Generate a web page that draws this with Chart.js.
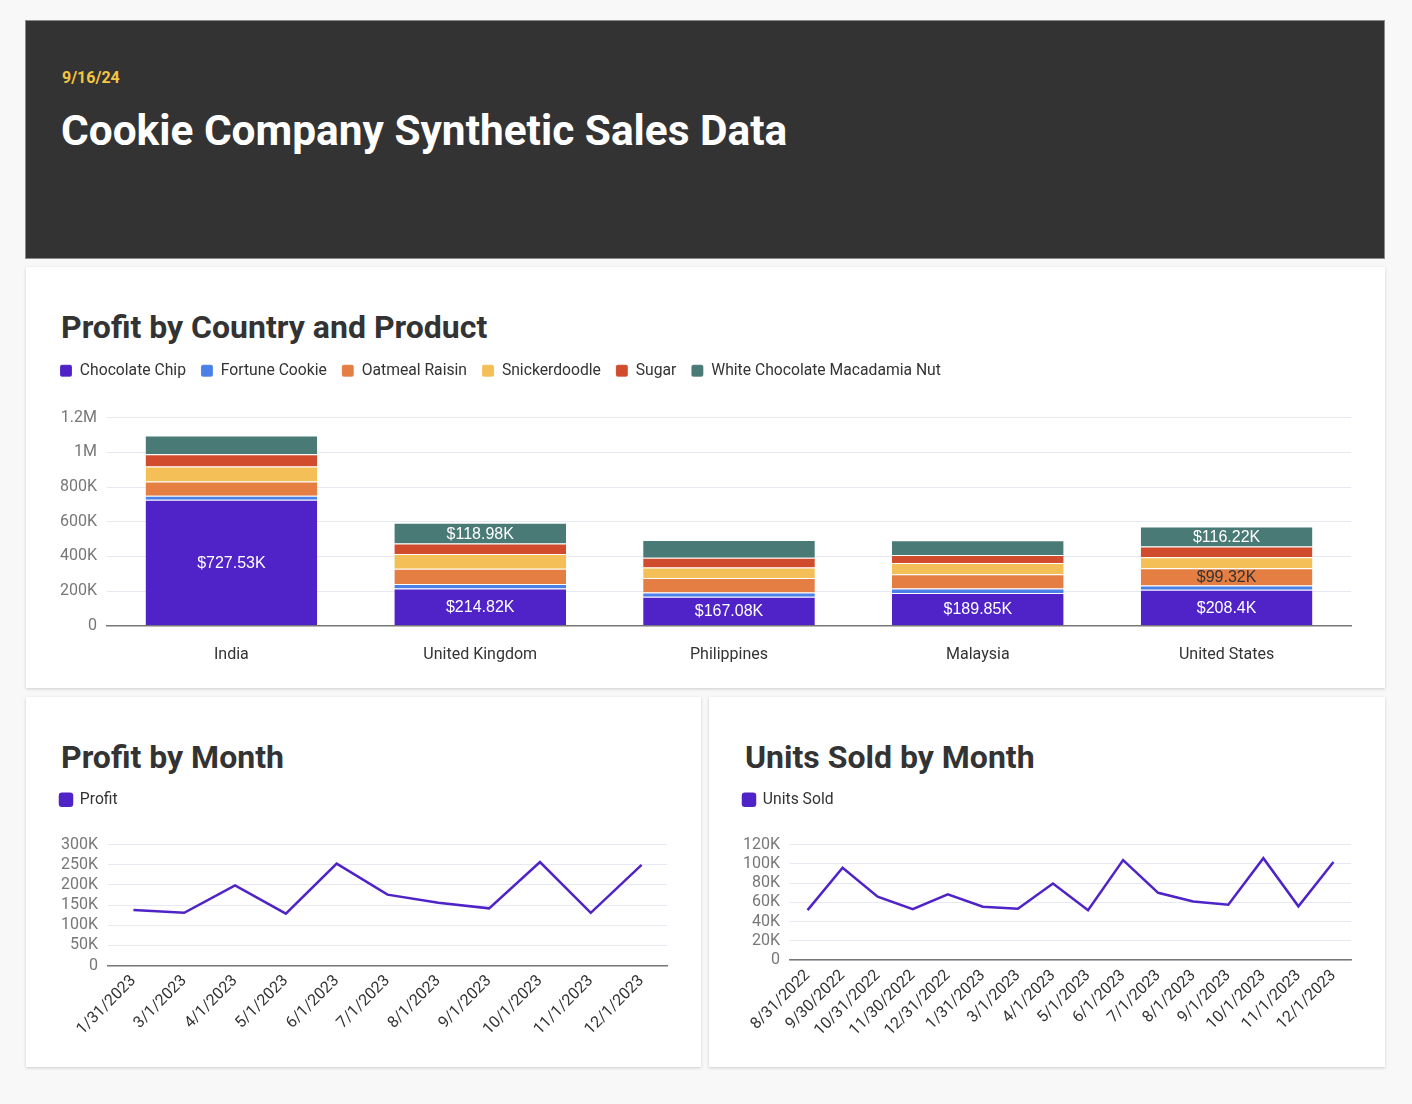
<!DOCTYPE html>
<html>
<head>
<meta charset="utf-8">
<script src="https://cdn.jsdelivr.net/npm/chart.js@4.4.1/dist/chart.umd.min.js"></script>
<style>
body { margin: 0; background: #f8f8f8; font-family: Roboto, sans-serif; width: 1412px; height: 1104px; position: relative; overflow: hidden; }
.box { position: absolute; background: #fff; box-shadow: 0 1px 3px rgba(0,0,0,0.18); }
.header { position: absolute; left: 25px; top: 20px; width: 1360px; height: 239px; background: #333; border: 1px solid #8a8a8a; box-sizing: border-box; }
.date { position: absolute; left: 62px; top: 70px; font: bold 16px/16px Roboto; color: #f4c542; }
.main-title { position: absolute; left: 61px; top: 110px; font: bold 42.4px/42px Roboto; color: #fff; }
.card-title { position: absolute; font: bold 32px/32px Roboto; color: #333; }
canvas { position: absolute; }
</style>
</head>
<body>
<div class="header"></div>
<div class="date">9/16/24</div>
<div class="main-title">Cookie Company Synthetic Sales Data</div>

<div class="box" style="left:26px;top:267px;width:1359px;height:421px"></div>
<div class="box" style="left:26px;top:697px;width:675px;height:370px"></div>
<div class="box" style="left:709px;top:697px;width:676px;height:370px"></div>

<div class="card-title" style="left:61px;top:311px">Profit by Country and Product</div>
<div class="card-title" style="left:61px;top:741px">Profit by Month</div>
<div class="card-title" style="left:745px;top:741px">Units Sold by Month</div>

<canvas id="bars" style="left:45px;top:348px" width="1325" height="337"></canvas>
<canvas id="profit" style="left:45px;top:777px" width="640" height="268"></canvas>
<canvas id="units" style="left:728px;top:777px" width="640" height="269"></canvas>

<script>
// profit by country and product
const countries = ["India", "United Kingdom", "Philippines", "Malaysia", "United States"];
const products = ["Chocolate Chip", "Fortune Cookie", "Oatmeal Raisin", "Snickerdoodle", "Sugar", "White Chocolate Macadamia Nut"];
const chocolateChip = [727530, 214820, 167080, 189850, 208400];
const fortuneCookie = [22000, 26000, 25000, 25000, 24000];
const oatmealRaisin = [82000, 88000, 83000, 83000, 99320];
const snickerdoodle = [87000, 85000, 61000, 65000, 64000];
const sugar = [71000, 61000, 56000, 45000, 61000];
const whiteChocMacadamia = [108000, 118980, 102000, 86000, 116220];
const productColors = ["#4f23c7", "#4a80e8", "#e57e43", "#f4bf57", "#d04c2c", "#4a7a75"];
// which segments carry a value label (country indexes, per product)
const labelledSegments = [[0, 1, 2, 3, 4], [], [4], [], [], [1, 4]];
const profitTicks = [0, 200000, 400000, 600000, 800000, 1000000, 1200000];

// profit by month
const profitMonths = ["1/31/2023", "3/1/2023", "4/1/2023", "5/1/2023", "6/1/2023", "7/1/2023", "8/1/2023", "9/1/2023", "10/1/2023", "11/1/2023", "12/1/2023"];
const monthlyProfit = [138000, 131000, 199000, 129000, 253000, 176000, 156000, 142000, 257000, 131000, 250000];

// units sold by month
const unitMonths = ["8/31/2022", "9/30/2022", "10/31/2022", "11/30/2022", "12/31/2022", "1/31/2023", "3/1/2023", "4/1/2023", "5/1/2023", "6/1/2023", "7/1/2023", "8/1/2023", "9/1/2023", "10/1/2023", "11/1/2023", "12/1/2023"];
const unitsSold = [52000, 96000, 66000, 53000, 68500, 55600, 53500, 79600, 52000, 104000, 70000, 61000, 57700, 106000, 56000, 102000];

const seriesValues = [chocolateChip, fortuneCookie, oatmealRaisin, snickerdoodle, sugar, whiteChocMacadamia];

function shortNum(v) {
    if (v >= 1000000) return (v / 1000000) + "M";
    if (v >= 1000) return (v / 1000) + "K";
    return String(v);
}

const gridColor = "#e6e8f4";
const axisColor = "#777";

const legendOpts = {
    display: true,
    position: "top",
    align: "start",
    labels: {
        boxWidth: 12,
        boxHeight: 12,
        useBorderRadius: true,
        borderRadius: 2,
        padding: 15,
        color: "#333",
        font: { family: "Roboto", size: 15.7 },
    },
};

// extra room under the legend
const legendGap = {
    id: "legendGap",
    beforeLayout(chart, args, opts) {
        const lg = chart.legend;
        if (lg && !lg._gapPatched) {
            const fit = lg.fit;
            lg.fit = function () {
                fit.call(this);
                this.height += opts.gap || 0;
            };
            lg._gapPatched = true;
        }
    },
};

// draws "$xxx.xxK" labels inside the chosen bar segments
const segmentLabels = {
    id: "segmentLabels",
    afterDatasetsDraw(chart) {
        const ctx = chart.ctx;
        ctx.save();
        ctx.font = "16px 'Liberation Sans', Arial, sans-serif";
        ctx.textAlign = "center";
        ctx.textBaseline = "middle";
        chart.data.datasets.forEach((ds, i) => {
            const meta = chart.getDatasetMeta(i);
            labelledSegments[i].forEach((c) => {
                const bar = meta.data[c];
                const v = ds.data[c];
                ctx.fillStyle = i === 2 ? "#333" : "#fff";
                ctx.fillText("$" + Math.round(v / 10) / 100 + "K", bar.x, (bar.y + bar.base) / 2 + 1);
            });
        });
        ctx.restore();
    },
};

new Chart(document.getElementById("bars"), {
    type: "bar",
    data: {
        labels: countries,
        datasets: products.map((p, i) => ({
            label: p,
            data: seriesValues[i],
            backgroundColor: productColors[i],
            borderColor: "rgba(255,255,255,0.6)",
            borderWidth: { top: 1 },
            categoryPercentage: 1,
            barPercentage: 0.69,
        })),
    },
    options: {
        responsive: false,
        animation: false,
        layout: { padding: { left: 0, right: 19, top: 0, bottom: 0 } },
        scales: {
            x: {
                stacked: true,
                grid: { display: false, drawTicks: false },
                border: { color: axisColor, width: 1.5 },
                ticks: { color: "#333", padding: 20, font: { family: "Roboto", size: 16 } },
            },
            y: {
                stacked: true,
                min: 0,
                max: 1200000,
                afterBuildTicks: (axis) => { axis.ticks = profitTicks.map((v) => ({ value: v })); },
                afterFit: (axis) => { axis.width = 62; },
                grid: { color: gridColor, drawTicks: false },
                border: { display: false },
                ticks: { color: axisColor, padding: 10, font: { family: "Roboto", size: 16 }, callback: shortNum },
            },
        },
        plugins: { legend: legendOpts, legendGap: { gap: 29 }, tooltip: { enabled: false } },
    },
    plugins: [legendGap, segmentLabels],
});

function lineChart(id, labels, values, name, max, step, yWidth, rightPad) {
    new Chart(document.getElementById(id), {
        type: "line",
        data: {
            labels: labels,
            datasets: [{
                label: name,
                data: values,
                borderColor: "#4f23c7",
                backgroundColor: "#4f23c7",
                borderWidth: 2.5,
                pointRadius: 0,
                tension: 0,
            }],
        },
        options: {
            responsive: false,
            animation: false,
            layout: { padding: { left: 0, right: rightPad, top: 0, bottom: 0 } },
            scales: {
                x: {
                    offset: true,
                    grid: { display: false, drawTicks: false },
                    border: { color: axisColor, width: 1.5 },
                    ticks: { color: "#333", padding: 6, maxRotation: 45, minRotation: 45, autoSkip: false, font: { family: "Roboto", size: 16 } },
                },
                y: {
                    min: 0,
                    max: max,
                    afterFit: (axis) => { axis.width = yWidth; },
                    grid: { color: gridColor, drawTicks: false },
                    border: { display: false },
                    ticks: { stepSize: step, autoSkip: false, color: axisColor, padding: 10, font: { family: "Roboto", size: 16 }, callback: shortNum },
                },
            },
            plugins: { legend: legendOpts, legendGap: { gap: 27 }, tooltip: { enabled: false } },
        },
        plugins: [legendGap],
    });
}

lineChart("profit", profitMonths, monthlyProfit, "Profit", 300000, 50000, 63, 18);
lineChart("units", unitMonths, unitsSold, "Units Sold", 120000, 20000, 62, 17);
</script>
</body>
</html>
